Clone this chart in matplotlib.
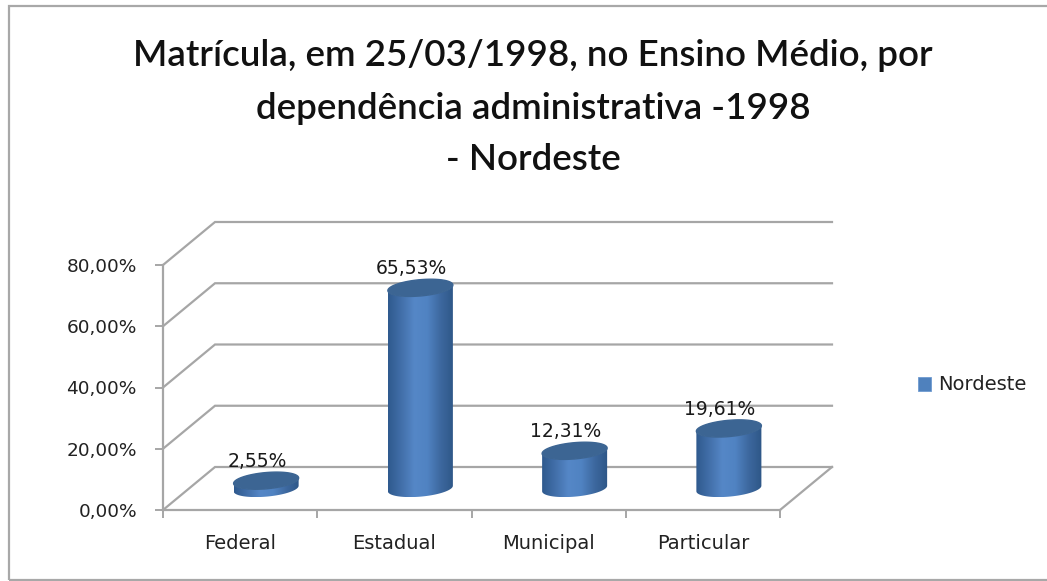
import numpy as np
import matplotlib
matplotlib.use("Agg")
import matplotlib.pyplot as plt
from matplotlib.patches import PathPatch, Rectangle
from matplotlib.path import Path
from matplotlib.colors import LinearSegmentedColormap

categories = ["Federal", "Estadual", "Municipal", "Particular"]
values = [2.55, 65.53, 12.31, 19.61]
value_labels = ["2,55%", "65,53%", "12,31%", "19,61%"]
y_ticks = [0, 20, 40, 60, 80]
y_tick_labels = ["0,00%", "20,00%", "40,00%", "60,00%", "80,00%"]
series_name = "Nordeste"
title_lines = ["Matrícula, em 25/03/1998, no Ensino Médio, por",
               "dependência administrativa -1998",
               "- Nordeste"]

W, H = 1047, 581
LABEL_FONT = "DejaVu Sans"
fig = plt.figure(figsize=(W / 100, H / 100), dpi=100, facecolor="white")
fig.patches.append(Rectangle((9 / W, 1 / H), 1060 / W, 574 / H, transform=fig.transFigure,
                             fc="none", ec="#a8a8a8", lw=1.6, zorder=0))

ax = fig.add_axes([163 / W, (H - 510) / H, 617 / W, 245 / H], zorder=2)
ax.set_xlim(0, 4)
ax.set_ylim(0, 80)
ax.patch.set_alpha(0)
for s in ["top", "right"]:
    ax.spines[s].set_visible(False)
for s in ["left", "bottom"]:
    ax.spines[s].set_color("#a6a6a6")
    ax.spines[s].set_linewidth(1.6)

px_x = 4 / 617
px_y = 80 / 245
depth_x = 52 * px_x
depth_y = 43 * px_y
grid = "#a6a6a6"

# depth walls
for t in y_ticks:
    ax.plot([0, depth_x, 4 + depth_x], [t, t + depth_y, t + depth_y], color=grid, lw=1.6,
            clip_on=False, zorder=1, solid_joinstyle="miter")
ax.plot([4, 4 + depth_x], [0, depth_y], color=grid, lw=1.6, clip_on=False, zorder=1)

ax.set_xticks(range(5))
ax.set_xticklabels([])
ax.set_yticks(y_ticks)
ax.set_yticklabels(y_tick_labels, fontsize=13.3, family=LABEL_FONT, color="#222222")
ax.tick_params(axis="both", color="#a6a6a6", width=1.4, length=5.8, pad=13)
for i, c in enumerate(categories):
    ax.text(i + 0.5, -10.8, c, ha="center", va="center", fontsize=14, family=LABEL_FONT,
            color="#222222", clip_on=False)

# cylinders
cmap = LinearSegmentedColormap.from_list("cyl", ["#2f5a8e", "#426fa9", "#5587c7", "#5083c2", "#3d689f", "#2e5787"])
grad = np.linspace(0, 1, 128)[None, :]
half_w = 30.8 * px_x
k = 0.20
tt = np.linspace(0, 2 * np.pi, 121)


def ring(cx, cy):
    xs = cx + half_w * np.cos(tt) + k * depth_x * np.sin(tt)
    ys = cy + k * depth_y * np.sin(tt)
    return xs, ys


for i, v in enumerate(values):
    cx = i + 0.5 + depth_x / 2
    cy0 = depth_y / 2
    xb, yb = ring(cx, cy0)
    xt, yt = ring(cx, cy0 + v)
    xs = np.r_[xb, xt]
    ys = np.r_[yb, yt]
    left, right = xs.min(), xs.max()
    il, ir = np.argmin(xb), np.argmax(xb)
    # walk the lower half of the ellipse from its left extreme to its right extreme
    if il < ir:
        seq = np.arange(il, ir + 1)
    else:
        seq = np.r_[np.arange(il, 121), np.arange(1, ir + 1)]
    bx, by = xb[seq], yb[seq]
    tx, ty = xt[seq][::-1], yt[seq][::-1]
    path = Path(np.c_[np.r_[bx, tx, bx[0]], np.r_[by, ty, by[0]]])
    patch = PathPatch(path, fc="none", ec="none", transform=ax.transData)
    ax.add_patch(patch)
    im = ax.imshow(grad, cmap=cmap, extent=(left, right, ys.min(), ys.max()), aspect="auto",
                   zorder=3, interpolation="bilinear")
    im.set_clip_path(patch)
    ax.fill(xt, yt, color="#3c6593", zorder=4, clip_on=False)
    ax.text(cx - 0.058, cy0 + v + 6.2, value_labels[i], ha="center", va="center",
            fontsize=13.5, family=LABEL_FONT, color="#1a1a1a", zorder=5, clip_on=False)
ax.set_xlim(0, 4)
ax.set_ylim(0, 80)

for line, y_px in zip(title_lines, [55, 108, 160]):
    fig.text(533 / W, 1 - y_px / H, line, ha="center", va="center", fontsize=26.5, family="Lato",
             fontweight="semibold", color="#111111")

# legend
fig.patches.append(Rectangle((918 / W, (H - 391) / H), 13 / W, 14 / H, transform=fig.transFigure,
                             fc="#4f81bd", ec="#6f9ad0", lw=0.6))
fig.text(938 / W, 1 - 384 / H, series_name, fontsize=14, family=LABEL_FONT, va="center", color="#222222")

fig.savefig("out.png", dpi=100)
